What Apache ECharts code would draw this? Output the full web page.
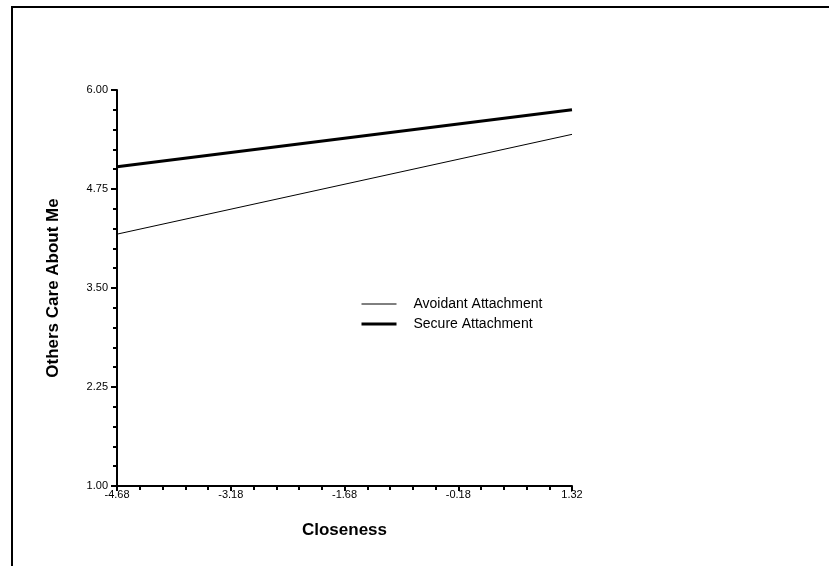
<!DOCTYPE html>
<html>
<head>
<meta charset="utf-8">
<script src="https://cdn.jsdelivr.net/npm/echarts@6/dist/echarts.min.js"></script>
<style>
html,body{margin:0;padding:0;background:#fff;}
#c{width:829px;height:566px;}
</style>
</head>
<body>
<div id="c"></div>
<script>
var xValues = [-4.68, 1.32];
var avoidant = [4.18, 5.44];
var secure = [5.03, 5.75];
var seriesNames = ['Avoidant Attachment', 'Secure Attachment'];

var chart = echarts.init(document.getElementById('c'), null, {renderer: 'canvas'});
var font = 'Liberation Sans, Arial, sans-serif';
function pairs(ys){ return xValues.map(function(x,i){ return [x, ys[i]]; }); }

chart.setOption({
  animation: false,
  backgroundColor: '#fff',
  grid: {left: 117, right: 257, top: 90, bottom: 80},
  legend: {
    orient: 'vertical', left: 355, top: 292,
    itemWidth: 35, itemHeight: 14, itemGap: 6,
    itemStyle: {opacity: 0},
    textStyle: {fontFamily: font, fontSize: 14, color: '#000', padding: [0, 0, 0, 12]},
    data: [
      {name: seriesNames[0], lineStyle: {width: 1, color: '#000'}},
      {name: seriesNames[1], lineStyle: {width: 3, color: '#000'}}
    ]
  },
  xAxis: {
    type: 'value', min: -4.68, max: 1.32, interval: 1.5,
    name: 'Closeness', nameLocation: 'middle', nameGap: 36,
    nameTextStyle: {fontFamily: font, fontSize: 17, fontWeight: 'bold', color: '#000'},
    axisLine: {onZero: false, lineStyle: {color: '#000', width: 2}},
    axisTick: {show: true, length: 5, lineStyle: {color: '#000', width: 2}},
    minorTick: {show: true, splitNumber: 5, length: 4, lineStyle: {color: '#000', width: 2}},
    axisLabel: {fontFamily: font, fontSize: 11, color: '#000', margin: 3,
      formatter: function(v){ return v.toFixed(2); }},
    splitLine: {show: false}
  },
  yAxis: {
    type: 'value', min: 1, max: 6, interval: 1.25,
    name: 'Others Care About Me', nameLocation: 'middle', nameGap: 55,
    nameTextStyle: {fontFamily: font, fontSize: 17, fontWeight: 'bold', color: '#000'},
    axisLine: {show: true, onZero: false, lineStyle: {color: '#000', width: 2}},
    axisTick: {show: true, length: 6, lineStyle: {color: '#000', width: 2}},
    minorTick: {show: true, splitNumber: 5, length: 4, lineStyle: {color: '#000', width: 2}},
    axisLabel: {fontFamily: font, fontSize: 11, color: '#000', margin: 9,
      formatter: function(v){ return v.toFixed(2); }},
    splitLine: {show: false}
  },
  graphic: [
    {type: 'polyline', shape: {points: [[12, 566], [12, 7], [829, 7]]},
     style: {stroke: '#000', lineWidth: 2, fill: null}, silent: true}
  ],
  series: [
    {name: seriesNames[0], type: 'line', data: pairs(avoidant), symbol: 'none',
     lineStyle: {color: '#000', width: 1}, itemStyle: {color: '#000'}},
    {name: seriesNames[1], type: 'line', data: pairs(secure), symbol: 'none',
     lineStyle: {color: '#000', width: 3}, itemStyle: {color: '#000'}}
  ]
});
</script>
</body>
</html>
